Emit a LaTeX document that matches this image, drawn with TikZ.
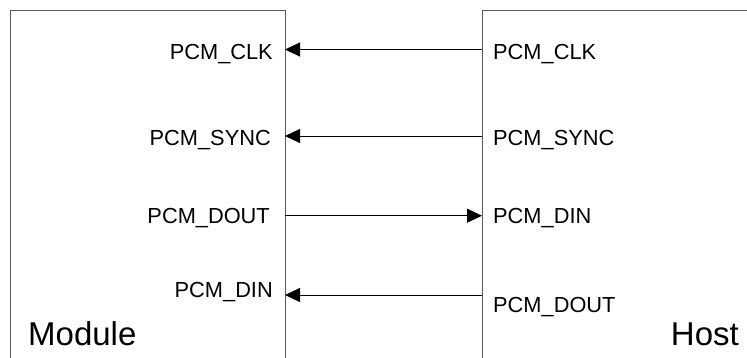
\documentclass[tikz,border=0pt]{standalone}
\usepackage{fontspec}
\setmainfont{Liberation Sans}
\usetikzlibrary{arrows.meta}
\begin{document}
\begin{tikzpicture}[x=1pt,y=-1pt,
  boxst/.style={draw=black!65, line width=1pt, anchor=north west, inner sep=0pt, minimum height=420pt},
  sig/.style={font=\fontsize{21.8}{24}\selectfont, inner sep=0pt},
  big/.style={font=\fontsize{33}{36}\selectfont, inner sep=0pt},
  wire/.style={draw=black, line width=1pt, -{Triangle[length=15pt,width=14pt]}}]
\useasboundingbox (0,0) rectangle (747,357);
\node[boxst, minimum width=275.5pt] (module) at (9.5,9.5) {};
\node[boxst, minimum width=320pt] (host) at (482,9.5) {};
% edge points
\coordinate (mclk) at (285,49.5);
\coordinate (msync) at (285,136);
\coordinate (mdout) at (285,215.7);
\coordinate (mdin) at (285,295);
\coordinate (hclk) at (482,49.5);
\coordinate (hsync) at (482,136);
\coordinate (hdin) at (482,215.7);
\coordinate (hdout) at (482,295);
% labels
\node[sig, anchor=base east] (lclk) at (273,59) {PCM\_CLK};
\node[sig, anchor=base east] (lsync) at (271,145.5) {PCM\_SYNC};
\node[sig, anchor=base east] (ldout) at (270,223) {PCM\_DOUT};
\node[sig, anchor=base east] (ldin) at (273,297) {PCM\_DIN};
\node[sig, anchor=base west] (rclk) at (493,59) {PCM\_CLK};
\node[sig, anchor=base west] (rsync) at (493,145) {PCM\_SYNC};
\node[sig, anchor=base west] (rdin) at (493,223) {PCM\_DIN};
\node[sig, anchor=base west] (rdout) at (493,312) {PCM\_DOUT};
\node[big, anchor=base west] (mname) at (28,345.7) {Module};
\node[big, anchor=base east] (hname) at (739,345.7) {Host};
% connectors
\draw[wire] (hclk) -- (mclk);
\draw[wire] (hsync) -- (msync);
\draw[wire] (mdout) -- (hdin);
\draw[wire] (hdout) -- (mdin);
\end{tikzpicture}
\end{document}
